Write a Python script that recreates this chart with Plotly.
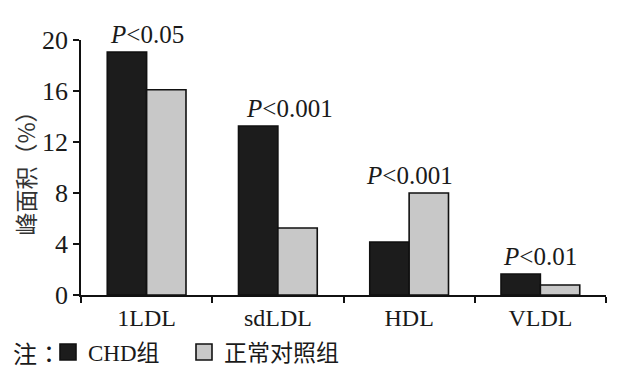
import plotly.graph_objects as go

categories = ["1LDL", "sdLDL", "HDL", "VLDL"]
chd_values = [19.05, 13.25, 4.15, 1.65]
control_values = [16.1, 5.25, 8.0, 0.78]
series_names = ["CHD组", "正常对照组"]
p_labels = ["<i>P</i><0.05", "<i>P</i><0.001", "<i>P</i><0.001", "<i>P</i><0.01"]
p_xshift = [0, 12, 0, 0]
y_ticks = [0, 4, 8, 12, 16, 20]

FONT = "Liberation Serif, Times New Roman, Noto Sans CJK SC, serif"
TXT = "#1a1a1a"
COLORS = ["#1c1c1c", "#c8c8c8"]
LEGENDS = ["legend", "legend2"]

# the page body has an 8px margin; the figure is sized to fit the 624x381 window
W, H = 616, 373
ML, MR, MT, MB = 73, 18, 32, 86
PW, PH = W - ML - MR, H - MT - MB
LEG_Y = 344
LEG_X = [40, 176]

fig = go.Figure()
for name, vals, col, leg in zip(series_names, [chd_values, control_values], COLORS, LEGENDS):
    fig.add_trace(go.Bar(
        x=categories, y=vals, name=name, showlegend=False, legendgroup=name,
        marker=dict(color=col, line=dict(color="#111111", width=1.6)),
    ))
    # legend entry with a larger square swatch
    fig.add_trace(go.Scatter(
        x=[None], y=[None], mode="markers", name=name, legendgroup=name, legend=leg,
        marker=dict(symbol="square", size=16, color=col,
                    line=dict(color="#111111", width=1.6)),
    ))

for cat, a, b, lab, xs in zip(categories, chd_values, control_values, p_labels, p_xshift):
    fig.add_annotation(
        x=cat, y=max(a, b), text=lab, showarrow=False,
        xanchor="center", yanchor="bottom", yshift=2, xshift=xs,
        font=dict(family=FONT, size=25, color=TXT),
    )

fig.add_annotation(
    x=(3 - ML) / PW, y=(MT + PH - LEG_Y) / PH, xref="paper", yref="paper", text="注：",
    showarrow=False, xanchor="left", yanchor="middle",
    font=dict(family="Noto Sans CJK TC", size=24, color=TXT),
)

legend_common = dict(
    orientation="h", xref="container", yref="container",
    y=(H - LEG_Y) / H, xanchor="left", yanchor="middle",
    font=dict(family=FONT, size=23, color=TXT),
    itemsizing="trace", itemwidth=30, tracegroupgap=0, bgcolor="rgba(0,0,0,0)",
)

fig.update_layout(
    width=W, height=H,
    margin=dict(l=ML, r=MR, t=MT, b=MB),
    paper_bgcolor="white", plot_bgcolor="white",
    barmode="group", bargap=0.4, bargroupgap=0,
    font=dict(family=FONT, size=22, color=TXT),
    showlegend=True,
    legend=dict(x=LEG_X[0] / W, **legend_common),
    legend2=dict(x=LEG_X[1] / W, **legend_common),
    xaxis=dict(
        automargin=False,
        showline=True, linecolor="#111111", linewidth=1.6,
        ticks="outside", tickson="boundaries", ticklen=6, tickcolor="#111111",
        tickwidth=1.6, showgrid=False, zeroline=False,
        tickfont=dict(family=FONT, size=24, color=TXT),
    ),
    yaxis=dict(
        automargin=False,
        range=[0, 20], tickvals=y_ticks,
        showline=True, linecolor="#111111", linewidth=1.6,
        ticks="outside", ticklen=6, tickcolor="#111111", tickwidth=1.6,
        showgrid=False, zeroline=False,
        tickfont=dict(family=FONT, size=26, color=TXT),
        title=dict(text="峰面积（%）", standoff=18,
                   font=dict(family="Noto Sans CJK SC", size=23, color="#333333")),
    ),
)

fig.write_html("out.html")
